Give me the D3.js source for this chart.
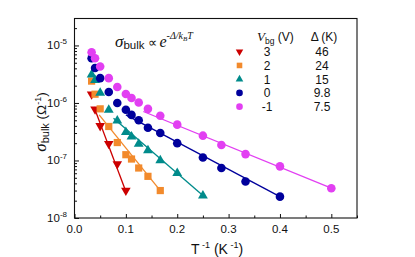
<!DOCTYPE html>
<meta charset="utf-8">
<style>
  body { margin: 0; background: #fff; }
  text { font-family: "Liberation Sans", Arial, sans-serif; fill: #111; }
  .serif { font-family: "Liberation Serif", "Times New Roman", serif; font-style: italic; }
</style>
<body>
<script src="https://d3js.org/d3.v7.min.js"></script>
<script>
// gate voltages and fitted gaps
var vbg = ["3", "2", "1", "0", "-1"];
var gaps = ["46", "24", "15", "9.8", "7.5"];
var colors = ["#cc0000", "#f28a2c", "#008b8b", "#00009c", "#e23ff2"];

// inverse temperature (1/K) for each series
var invT3 = [0.0333, 0.04, 0.05, 0.0667, 0.0833, 0.1];
var invT2 = [0.0333, 0.04, 0.05, 0.0667, 0.0833, 0.1, 0.111, 0.125, 0.143, 0.167];
var invT1 = [0.0333, 0.04, 0.05, 0.0667, 0.0833, 0.1, 0.111, 0.125, 0.143, 0.167, 0.2, 0.25];
var invT0 = [0.0333, 0.04, 0.05, 0.0667, 0.0833, 0.1, 0.111, 0.125, 0.143, 0.167, 0.2, 0.25, 0.286, 0.333, 0.4];
var invTm1 = [0.0333, 0.04, 0.05, 0.0667, 0.0833, 0.1, 0.111, 0.125, 0.143, 0.167, 0.2, 0.25, 0.286, 0.333, 0.4, 0.5];

// bulk conductance (1/Ohm)
var sig3 = [1.42e-6, 7.8e-7, 4.0e-7, 1.95e-7, 8.7e-8, 3.0e-8];
var sig2 = [2.4e-6, 1.42e-6, 7.9e-7, 3.9e-7, 2.05e-7, 1.26e-7, 1.06e-7, 7.4e-8, 5.3e-8, 3.0e-8];
var sig1 = [3.1e-6, 2.5e-6, 1.5e-6, 7.6e-7, 4.9e-7, 3.1e-7, 2.6e-7, 1.94e-7, 1.5e-7, 1.0e-7, 6.0e-8, 2.44e-8];
var sig0 = [6.0e-6, 4.05e-6, 2.7e-6, 1.55e-6, 1.0e-6, 7.6e-7, 6.2e-7, 5.0e-7, 3.7e-7, 3.0e-7, 2.0e-7, 1.13e-7, 7.4e-8, 4.3e-8, 2.35e-8];
var sigm1 = [7.6e-6, 6.0e-6, 4.3e-6, 2.7e-6, 1.9e-6, 1.43e-6, 1.22e-6, 1.02e-6, 7.9e-7, 6.0e-7, 4.2e-7, 2.7e-7, 1.86e-7, 1.29e-7, 7.9e-8, 3.3e-8];

// activation fit lines: [x0, x1] and [y0, y1]
var fitX = [[0.038, 0.1], [0.048, 0.167], [0.076, 0.25], [0.1, 0.4], [0.134, 0.5]];
var fitY = [[8.5e-7, 2.9e-8], [6.2e-7, 3.0e-8], [5.4e-7, 2.45e-8], [6.2e-7, 2.35e-8], [7.1e-7, 3.3e-8]];

var xTicks = [0, 0.1, 0.2, 0.3, 0.4, 0.5];
var yTicks = [1e-8, 1e-7, 1e-6, 1e-5];
var yExp = ["-8", "-7", "-6", "-5"];

var xs = [invT3, invT2, invT1, invT0, invTm1];
var ys = [sig3, sig2, sig1, sig0, sigm1];
var shapes = [d3.symbolTriangle, d3.symbolSquare, d3.symbolTriangle, d3.symbolCircle, d3.symbolCircle];
var sizes = [40, 52, 42, 58, 58];

var W = 415, H = 257;
var svg = d3.select("body").append("svg").attr("width", W).attr("height", H);

var x = d3.scaleLinear().domain([0, 0.55]).range([74.5, 357]);
var y = d3.scaleLog().domain([1e-8, 3e-5]).range([218, 18]);

// axes with inward ticks
var xAxis = d3.axisBottom(x).tickValues(d3.range(0, 0.551, 0.05)).tickSize(-3.5).tickFormat("");
svg.append("g").attr("transform", "translate(0,218)").call(xAxis)
  .call(g => g.select(".domain").remove())
  .selectAll("line").attr("stroke", "#111")
  .attr("y2", (d, i) => i % 2 ? -2.5 : -4);

var minors = [];
[1e-8, 1e-7, 1e-6, 1e-5].forEach(function(d) {
  for (var k = 1; k < 10; k++) if (d * k <= 3e-5) minors.push(d * k);
});
svg.append("g").attr("transform", "translate(74.5,0)")
  .call(d3.axisLeft(y).tickValues(minors).tickFormat("").tickSize(-2.5))
  .call(g => g.select(".domain").remove())
  .selectAll("line").attr("stroke", "#111")
  .attr("x2", d => yTicks.indexOf(d) >= 0 ? 4.5 : 2.5);

svg.append("rect").attr("x", 74.5).attr("y", 18.5).attr("width", 282.5).attr("height", 199.5)
  .attr("fill", "none").attr("stroke", "#111").attr("stroke-width", 1.1);

svg.selectAll(".xl").data(xTicks).join("text")
  .attr("x", d => x(d)).attr("y", 232.5).attr("text-anchor", "middle")
  .attr("font-size", 11.5).text(d => d.toFixed(1));

var yl = svg.selectAll(".yl").data(yTicks).join("text")
  .attr("x", 67).attr("y", d => y(d) + 4).attr("text-anchor", "end").attr("font-size", 11.5);
yl.append("tspan").text("10");
yl.append("tspan").attr("font-size", 8).attr("dy", -5).text((d, i) => yExp[i]);

// fit lines
fitX.forEach(function(fx, i) {
  svg.append("line")
    .attr("x1", x(fx[0])).attr("y1", y(fitY[i][0]))
    .attr("x2", x(fx[1])).attr("y2", y(fitY[i][1]))
    .attr("stroke", colors[i]).attr("stroke-width", 1.3);
});

// data points
xs.forEach(function(xv, i) {
  svg.append("g").selectAll("path").data(xv).join("path")
    .attr("d", d3.symbol().type(shapes[i]).size(sizes[i]))
    .attr("transform", (d, j) => "translate(" + x(d) + "," + y(ys[i][j]) + ")" + (i == 0 ? " rotate(180)" : ""))
    .attr("fill", colors[i]);
});

// legend
var lg = svg.append("g");
var hd = lg.append("text").attr("x", 257).attr("y", 41).attr("font-size", 12);
hd.append("tspan").attr("class", "serif").attr("font-size", 13).text("V");
hd.append("tspan").attr("font-size", 8.5).attr("dy", 3).text("bg");
hd.append("tspan").attr("dy", -3).text(" (V)");
lg.append("text").attr("x", 324).attr("y", 41).attr("text-anchor", "middle").attr("font-size", 12).text("\u0394 (K)");
vbg.forEach(function(v, i) {
  var cy = 51.7 + i * 13.75;
  lg.append("path")
    .attr("d", d3.symbol().type(shapes[i]).size(sizes[i] * 0.6))
    .attr("transform", "translate(239.5," + cy + ")" + (i == 0 ? " rotate(180)" : ""))
    .attr("fill", colors[i]);
  lg.append("text").attr("x", 267).attr("y", cy + 4.3).attr("text-anchor", "middle").attr("font-size", 12).text(v);
  lg.append("text").attr("x", 322).attr("y", cy + 4.3).attr("text-anchor", "middle").attr("font-size", 12).text(gaps[i]);
});

// formula
var f = svg.append("text").attr("x", 115).attr("y", 47);
f.append("tspan").attr("class", "serif").attr("font-size", 17).text("\u03c3");
f.append("tspan").attr("font-size", 11.5).attr("dy", 2).text("bulk");
f.append("tspan").attr("font-size", 13).attr("dy", -2).attr("dx", 3).text("\u221d");
f.append("tspan").attr("class", "serif").attr("font-size", 16).attr("dx", 3).text("e");
f.append("tspan").attr("class", "serif").attr("font-size", 10).attr("dy", -8).text("-\u0394/k");
f.append("tspan").attr("class", "serif").attr("font-size", 7).attr("dy", 2).text("B");
f.append("tspan").attr("class", "serif").attr("font-size", 10).attr("dy", -2).text("T");

// axis titles
var yt = svg.append("text").attr("transform", "translate(46,122) rotate(-90)")
  .attr("text-anchor", "middle").attr("font-size", 13.5);
yt.append("tspan").attr("class", "serif").attr("font-size", 17).text("\u03c3");
yt.append("tspan").attr("font-size", 11).attr("dy", 3).text("bulk");
yt.append("tspan").attr("dy", -3).text(" (\u03a9");
yt.append("tspan").attr("font-size", 9).attr("dy", -5).text("-1");
yt.append("tspan").attr("dy", 5).text(")");

var xt = svg.append("text").attr("x", 217).attr("y", 254).attr("text-anchor", "middle").attr("font-size", 14);
xt.append("tspan").text("T");
xt.append("tspan").attr("font-size", 9).attr("dy", -6).text(" -1");
xt.append("tspan").attr("dy", 6).text(" (K");
xt.append("tspan").attr("font-size", 9).attr("dy", -6).text(" -1");
xt.append("tspan").attr("dy", 6).text(")");
</script>
</body>
